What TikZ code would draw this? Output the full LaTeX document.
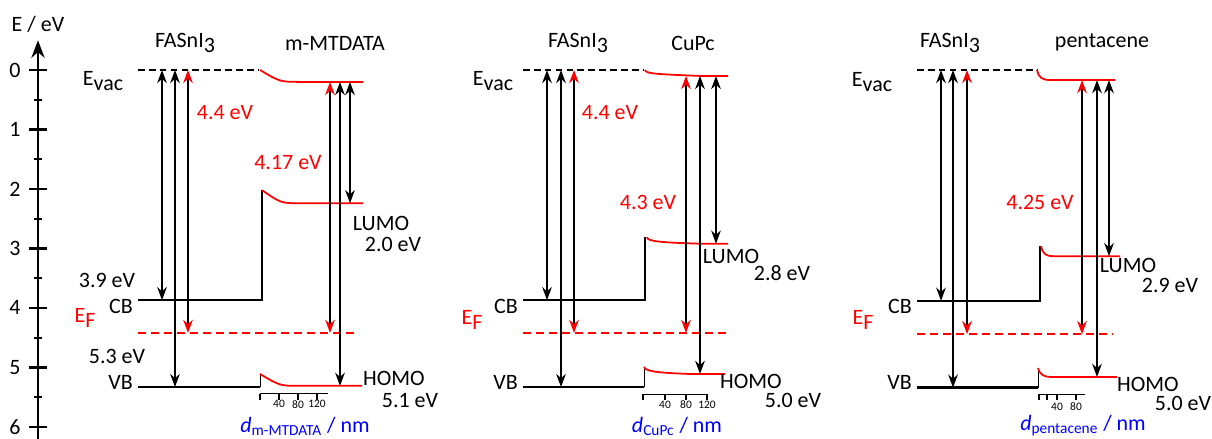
\documentclass[tikz,border=0pt]{standalone}
\usepackage{fontspec}
\setmainfont{Carlito}
\usepackage{tikz}
\usetikzlibrary{arrows.meta, calc}

\newcommand{\lowtxt}[1]{\raisebox{-0.45ex}{#1}}

\begin{document}
\begin{tikzpicture}[x=0.02cm, y=-1.19cm,
  font=\fontsize{12.5}{14}\selectfont,
  level/.style={line width=1.4pt},
  band/.style={red, line width=1pt},
  vacline/.style={line width=0.7pt, dash pattern=on 3.8pt off 2.4pt},
  fermi/.style={red, line width=1pt, dash pattern=on 4.6pt off 2.8pt},
  dar/.style={{Stealth[length=7.5pt,width=5.5pt]}-{Stealth[length=7.5pt,width=5.5pt]}, line width=0.9pt},
  rdar/.style={{Stealth[length=7.5pt,width=5.5pt,red]}-{Stealth[length=7.5pt,width=5.5pt,red]}, line width=0.9pt},
  scaleax/.style={line width=0.7pt},
  tiklab/.style={font=\fontsize{6.5}{7}\selectfont},
  dlab/.style={blue}]

\useasboundingbox (0,-1.1765) rectangle (1212,6.2017);


\draw[line width=1.6pt, -{Stealth[length=10pt,width=7.5pt]}] (38,6.25) -- (38,-0.5);
\foreach \e in {0,...,6} {
  \draw[line width=1.3pt] (29,\e) -- (47,\e);
  \node (tick\e) at (15,\e) {\e};
}
\foreach \e in {0.5,1.5,...,5.5}
  \draw[line width=1.3pt] (34,\e) -- (42,\e);
\node (Eaxis) at (38,-0.77) {E / eV};


\node (fasA) at (185,-0.45) {FASnI\lowtxt{3}};
\node (mtd) at (335,-0.45) {m-MTDATA};
\node (evacA) at (103,0.18) {E\lowtxt{vac}};

\coordinate (vacA0) at (138,0);
\coordinate (vacA1) at (258,0);
\coordinate (vacmA) at (363,0.2);
\coordinate (cbA) at (138,3.87);
\coordinate (lumoA) at (363,2.24);
\coordinate (efA) at (138,4.42);
\coordinate (vbA) at (138,5.33);
\coordinate (homoA) at (362,5.31);

\draw[vacline] (vacA0) -- (vacA1);
\draw[band] (260,0) .. controls (280,0.2) .. (300,0.2) -- (vacmA);
\draw[level] (cbA) -- (262,3.87) -- (262,2.02);
\draw[band] (262,2.02) .. controls (281,2.24) .. (300,2.24) -- (lumoA);
\draw[fermi] (efA) -- (358,4.42);
\draw[level] (vbA) -- (260,5.33);
\draw[thin] (260,5.33) -- (260,5.11);
\draw[band] (260,5.11) .. controls (280,5.31) .. (300,5.31) -- (homoA);

\coordinate (aA1) at (162,0);
\coordinate (aA2) at (175,0);
\coordinate (aA3) at (188,0);
\coordinate (bA1) at (330,0.2);
\coordinate (bA2) at (340,0.2);
\coordinate (bA3) at (350,0.2);
\draw[dar] (aA1) -- (aA1 |- cbA);
\draw[dar] (aA2) -- (aA2 |- vbA);
\draw[rdar] (aA3) -- (aA3 |- efA);
\draw[rdar] (bA1) -- (bA1 |- efA);
\draw[dar] (bA2) -- (bA2 |- homoA);
\draw[dar] (bA3) -- (bA3 |- lumoA);

\node[red] (wfA) at (225,0.72) {4.4 eV};
\node[red] (ipA) at (288,1.56) {4.17 eV};
\node (eaFA) at (107,3.53) {3.9 eV};
\node[anchor=east] (cbtA) at (139,3.97) {CB};
\node[red] (efltA) at (85,4.17) {E\lowtxt{F}};
\node (ipFA) at (117,4.82) {5.3 eV};
\node[anchor=east] (vbtA) at (139,5.26) {VB};
\node (lumotA) at (381,2.58) {LUMO};
\node (eaMA) at (393,2.94) {2.0 eV};
\node (homotA) at (394,5.19) {HOMO};
\node (ipMA) at (410,5.55) {5.1 eV};

\draw[scaleax] (260,5.44) -- (328,5.44);
\foreach \x in {260,279,298,317}
  \draw[scaleax] (\x,5.44) -- (\x,5.54);
\node[tiklab] (sA1) at (279,5.62) {40};
\node[tiklab] (sA2) at (298,5.62) {80};
\node[tiklab] (sA3) at (317,5.62) {120};
\node[dlab] (dA) at (305,5.99) {\textit{d}\textsubscript{m-MTDATA} / nm};


\node (fasB) at (578,-0.45) {FASnI\lowtxt{3}};
\node (cupc) at (693,-0.45) {CuPc};
\node (evacB) at (493,0.18) {E\lowtxt{vac}};

\coordinate (vacB0) at (523,0);
\coordinate (vacB1) at (643,0);
\coordinate (vacmB) at (728,0.1);
\coordinate (cbB) at (523,3.87);
\coordinate (lumoB) at (728,2.92);
\coordinate (efB) at (523,4.42);
\coordinate (vbB) at (523,5.33);
\coordinate (homoB) at (725,5.11);

\draw[vacline] (vacB0) -- (vacB1);
\draw[band] (645,0) .. controls (645.5,0.06) and (655,0.07) .. (700,0.1) -- (vacmB);
\draw[level] (cbB) -- (645,3.87) -- (645,2.81);
\draw[band] (647,2.81) .. controls (647,2.88) and (660,2.9) .. (700,2.92) -- (lumoB);
\draw[fermi] (efB) -- (730,4.42);
\draw[level] (vbB) -- (644,5.33);
\draw[thin] (644,5.33) -- (644,4.99);
\draw[band] (644,4.99) .. controls (645,5.06) and (655,5.09) .. (690,5.11) -- (homoB);

\coordinate (aB1) at (547,0);
\coordinate (aB2) at (561,0);
\coordinate (aB3) at (574,0);
\coordinate (bB1) at (686,0.1);
\coordinate (bB2) at (700,0.1);
\coordinate (bB3) at (716,0.1);
\draw[dar] (aB1) -- (aB1 |- cbB);
\draw[dar] (aB2) -- (aB2 |- vbB);
\draw[rdar] (aB3) -- (aB3 |- efB);
\draw[rdar] (bB1) -- (bB1 |- efB);
\draw[dar] (bB2) -- (bB2 |- homoB);
\draw[dar] (bB3) -- (bB3 |- lumoB);

\node[red] (wfB) at (610,0.72) {4.4 eV};
\node[red] (ipB) at (648,2.22) {4.3 eV};
\node[anchor=east] (cbtB) at (524,3.97) {CB};
\node[red] (efltB) at (472,4.2) {E\lowtxt{F}};
\node[anchor=east] (vbtB) at (524,5.26) {VB};
\node (lumotB) at (731,3.14) {LUMO};
\node (eaMB) at (782,3.41) {2.8 eV};
\node (homotB) at (751,5.24) {HOMO};
\node (ipMB) at (793,5.55) {5.0 eV};

\draw[scaleax] (643,5.45) -- (708,5.45);
\foreach \x in {643,665,686,707}
  \draw[scaleax] (\x,5.45) -- (\x,5.55);
\node[tiklab] (sB1) at (665,5.63) {40};
\node[tiklab] (sB2) at (686,5.63) {80};
\node[tiklab] (sB3) at (707,5.63) {120};
\node[dlab] (dB) at (677,5.99) {\textit{d}\textsubscript{CuPc} / nm};


\node (fasC) at (950,-0.45) {FASnI\lowtxt{3}};
\node (pent) at (1102,-0.47) {pentacene};
\node (evacC) at (872,0.2) {E\lowtxt{vac}};

\coordinate (vacC0) at (917,0);
\coordinate (vacC1) at (1037,0);
\coordinate (vacmC) at (1115,0.17);
\coordinate (cbC) at (917,3.88);
\coordinate (lumoC) at (1120,3.13);
\coordinate (efC) at (917,4.44);
\coordinate (vbC) at (917,5.34);
\coordinate (homoC) at (1117,5.16);

\draw[vacline] (vacC0) -- (vacC1);
\draw[band] (1037,0) .. controls (1039,0.14) and (1042,0.17) .. (1052,0.17) -- (vacmC);
\draw[level] (cbC) -- (1040,3.88) -- (1040,2.96);
\draw[band] (1041,2.96) .. controls (1043,3.1) and (1046,3.13) .. (1054,3.13) -- (lumoC);
\draw[fermi] (efC) -- (1113,4.44);
\draw[level] (vbC) -- (1038,5.34);
\draw[thin] (1038,5.34) -- (1038,5.01);
\draw[band] (1038,5.01) .. controls (1040,5.13) and (1044,5.16) .. (1052,5.16) -- (homoC);

\coordinate (aC1) at (941,0);
\coordinate (aC2) at (953,0);
\coordinate (aC3) at (967,0);
\coordinate (bC1) at (1082,0.17);
\coordinate (bC2) at (1097,0.17);
\coordinate (bC3) at (1109,0.17);
\draw[dar] (aC1) -- (aC1 |- cbC);
\draw[dar] (aC2) -- (aC2 |- vbC);
\draw[rdar] (aC3) -- (aC3 |- efC);
\draw[rdar] (bC1) -- (bC1 |- efC);
\draw[dar] (bC2) -- (bC2 |- homoC);
\draw[dar] (bC3) -- (bC3 |- lumoC);

\node[red] (ipC) at (1040,2.22) {4.25 eV};
\node[anchor=east] (cbtC) at (918,3.97) {CB};
\node[red] (efltC) at (863,4.2) {E\lowtxt{F}};
\node[anchor=east] (vbtC) at (918,5.26) {VB};
\node (lumotC) at (1128,3.28) {LUMO};
\node (eaMC) at (1170,3.63) {2.9 eV};
\node (homotC) at (1148,5.28) {HOMO};
\node (ipMC) at (1183,5.61) {5.0 eV};

\draw[scaleax] (1039,5.45) -- (1085,5.45);
\foreach \x in {1039,1047,1057,1076}
  \draw[scaleax] (\x,5.45) -- (\x,5.55);
\node[tiklab] (sC1) at (1057,5.66) {40};
\node[tiklab] (sC2) at (1076,5.66) {80};
\node[dlab] (dC) at (1083,5.98) {\textit{d}\textsubscript{pentacene} / nm};

\end{tikzpicture}
\end{document}
